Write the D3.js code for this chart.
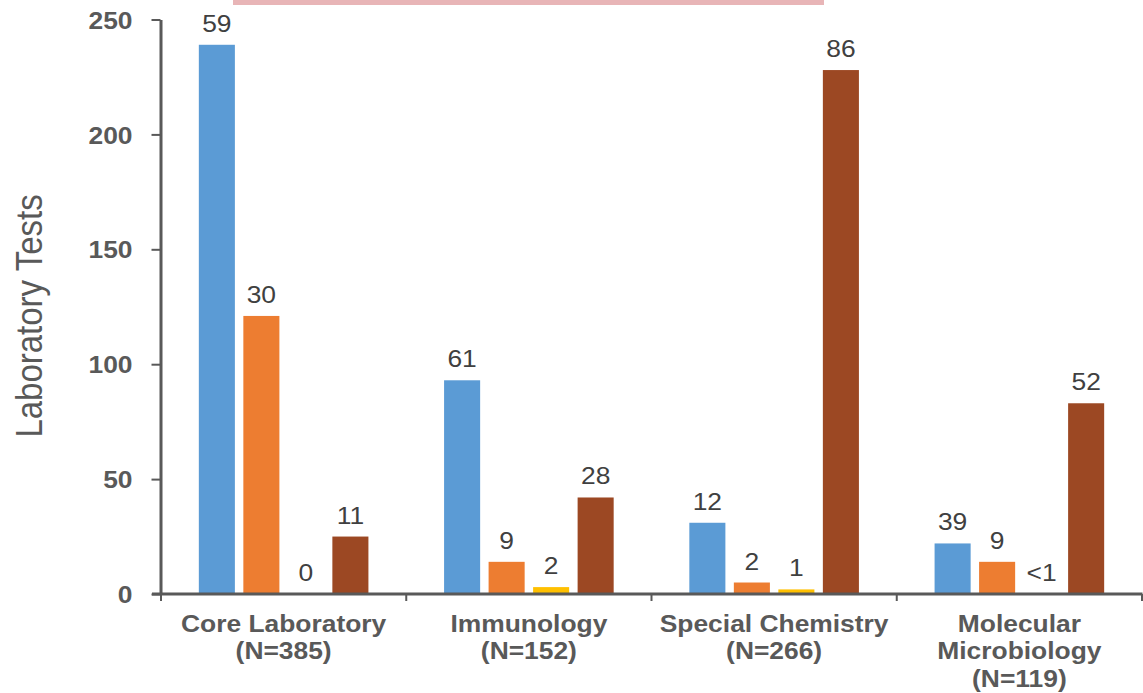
<!DOCTYPE html>
<html>
<head>
<meta charset="utf-8">
<script src="https://cdn.jsdelivr.net/npm/d3@7"></script>
<style>
  html, body { margin: 0; padding: 0; background: #ffffff; }
  svg { display: block; }
  text { font-family: "Liberation Sans", Arial, sans-serif; }
</style>
</head>
<body>
<svg id="chart" width="1143" height="693"></svg>
<script>
// Laboratory tests per section, split into four groups (counts), with percentage labels
const categories = ["Core Laboratory", "Immunology", "Special Chemistry", "Molecular Microbiology"];
const categoryLines = [
  ["Core Laboratory", "(N=385)"],
  ["Immunology", "(N=152)"],
  ["Special Chemistry", "(N=266)"],
  ["Molecular", "Microbiology", "(N=119)"]
];
const seriesKeys = ["groupA", "groupB", "groupC", "groupD"];
const seriesColors = ["#5B9BD5", "#ED7D31", "#FFC000", "#9C4823"];

const groupACounts = [239, 93, 31, 22];
const groupBCounts = [121, 14, 5, 14];
const groupCCounts = [0, 3, 2, 0];
const groupDCounts = [25, 42, 228, 83];

const groupALabels = ["59", "61", "12", "39"];
const groupBLabels = ["30", "9", "2", "9"];
const groupCLabels = ["0", "2", "1", "<1"];
const groupDLabels = ["11", "28", "86", "52"];

const yTicks = [0, 50, 100, 150, 200, 250];
const yTitle = "Laboratory Tests";

const seriesCounts = [groupACounts, groupBCounts, groupCCounts, groupDCounts];
const seriesLabels = [groupALabels, groupBLabels, groupCLabels, groupDLabels];

const svg = d3.select("#chart");
const TEXT_SX = 1.1; // glyphs are drawn slightly wide

const x = d3.scaleBand().domain(categories).range([161, 1142]).padding(0);
const xs = d3.scaleBand().domain(seriesKeys).range([0, x.bandwidth()])
  .paddingInner(0.19).paddingOuter(0.85);
const y = d3.scaleLinear().domain([0, 250]).range([594, 19.5]);

// top strip
svg.append("rect")
  .attr("x", 233).attr("y", 0).attr("width", 591).attr("height", 5)
  .attr("fill", "#E8B5B7");

// bars
const rows = [];
categories.forEach((c, ci) => {
  seriesKeys.forEach((k, si) => {
    rows.push({ cat: c, key: k, color: seriesColors[si],
      value: seriesCounts[si][ci], label: seriesLabels[si][ci] });
  });
});

svg.append("g").selectAll("rect").data(rows).join("rect")
  .attr("x", d => x(d.cat) + xs(d.key))
  .attr("y", d => y(d.value))
  .attr("width", xs.bandwidth())
  .attr("height", d => y(0) - y(d.value))
  .attr("fill", d => d.color);

// value labels
svg.append("g").selectAll("text").data(rows).join("text")
  .attr("transform", d => `translate(${x(d.cat) + xs(d.key) + xs.bandwidth() / 2},${y(d.value) - 13}) scale(${TEXT_SX},1)`)
  .attr("text-anchor", "middle")
  .attr("font-size", 24)
  .attr("fill", "#404040")
  .text(d => d.label);

// y axis
const yAxis = svg.append("g")
  .attr("transform", "translate(160.5,0)")
  .call(d3.axisLeft(y).tickValues(yTicks).tickSize(9).tickSizeOuter(0).tickPadding(19));
yAxis.select(".domain").attr("stroke", "#595959").attr("stroke-width", 3);
yAxis.selectAll(".tick line").attr("stroke", "#595959").attr("stroke-width", 2);
yAxis.selectAll(".tick text")
  .attr("font-family", "Liberation Sans, Arial, sans-serif")
  .attr("font-size", 24).attr("font-weight", "bold").attr("fill", "#595959")
  .attr("dy", "0.36em")
  .each(function () {
    const t = d3.select(this);
    const tx = +t.attr("x");
    t.attr("x", null).attr("transform", `translate(${tx},0) scale(${TEXT_SX},1)`);
  });

// x axis line and category boundary ticks
const bounds = categories.map(c => x(c)).concat([x.range()[1]]);
svg.append("line")
  .attr("x1", 152).attr("x2", 1142.5).attr("y1", 594).attr("y2", 594)
  .attr("stroke", "#595959").attr("stroke-width", 3);
svg.append("g").selectAll("line").data(bounds).join("line")
  .attr("x1", d => d).attr("x2", d => d)
  .attr("y1", 594).attr("y2", 601)
  .attr("stroke", "#595959").attr("stroke-width", 2);

// category labels
const catG = svg.append("g").selectAll("text").data(categories).join("text")
  .attr("transform", c => `translate(${x(c) + x.bandwidth() / 2},632) scale(${TEXT_SX},1)`)
  .attr("text-anchor", "middle")
  .attr("font-size", 24)
  .attr("font-weight", "bold")
  .attr("fill", "#595959");
catG.each(function (c, i) {
  d3.select(this).selectAll("tspan").data(categoryLines[i]).join("tspan")
    .attr("x", 0)
    .attr("dy", (d, j) => j === 0 ? 0 : 27.5)
    .text(d => d);
});

// y axis title
svg.append("text")
  .attr("transform", `translate(42,316) scale(${TEXT_SX},1) rotate(-90)`)
  .attr("text-anchor", "middle")
  .attr("font-size", 33)
  .attr("fill", "#595959")
  .text(yTitle);
</script>
</body>
</html>
